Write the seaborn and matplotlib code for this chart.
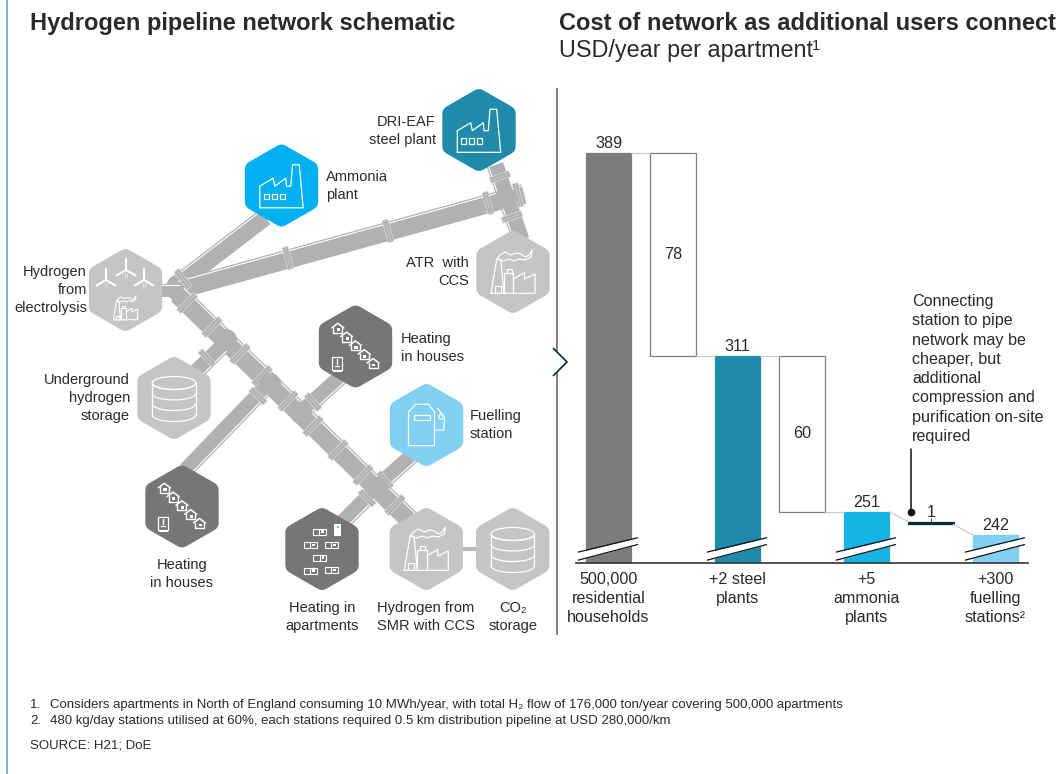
import numpy as np
import pandas as pd
import seaborn as sns
import matplotlib.pyplot as plt
from matplotlib.patches import Polygon, Rectangle, Ellipse, Circle

# waterfall values
steps = ["households", "steel_drop", "steel", "ammonia_drop", "ammonia", "station_drop", "stations"]
heights = [389, 78, 311, 60, 251, 1, 242]
bottoms = [0, 311, 0, 251, 0, 246.2, 0]
bar_colors = ["#7b7c7b", "#ffffff", "#1f8aa9", "#ffffff", "#16b3e5", "#0b2a3f", "#80d0f1"]
edge_colors = ["#7b7c7b", "#7f7f7f", "#1f8aa9", "#7f7f7f", "#16b3e5", "#0b2a3f", "#80d0f1"]
total_labels = ["389", "311", "251", "242"]
drop_labels = ["78", "60"]
tick_labels = ["500,000\nresidential\nhouseholds", "+2 steel\nplants", "+5\nammonia\nplants", "+300\nfuelling\nstations²"]

TEXT = "#2a2a2a"
PIPE = "#b0b1b3"
GREY_HEX = "#c4c5c7"
DARK_HEX = "#757776"
W, H = 1064, 774

sns.set_theme(style="white")
plt.rcParams['font.family'] = ['Liberation Sans', 'DejaVu Sans']

fig = plt.figure(figsize=(W / 100, H / 100), dpi=100)

# overlay in pixel coordinates for the schematic and the notes
ov = fig.add_axes([0, 0, 1, 1])
ov.set_xlim(0, W)
ov.set_ylim(H, 0)
ov.axis("off")


def line(xs, ys, color="white", lw=0.9, z=5, **kws):
    ov.plot(xs, ys, color=color, lw=lw, zorder=z, solid_capstyle=kws.pop("cap", "round"), **kws)


def pipe(p0, p1, width, collars=(), side=1):
    p0, p1 = np.array(p0, float), np.array(p1, float)
    d = (p1 - p0) / np.linalg.norm(p1 - p0)
    n = np.array([-d[1], d[0]]) * side
    line([p0[0], p1[0]], [p0[1], p1[1]], PIPE, width * 0.72, 2, cap="butt")
    off = n * (width / 2 - 1.8)
    line([p0[0] + off[0], p1[0] + off[0]], [p0[1] + off[1], p1[1] + off[1]], "white", 0.8, 2.1, cap="butt")
    # collars sit across the pipe at the given points
    for c in collars:
        c = np.array(c, float)
        half_w = (width + 4) / 2
        corners = [c + d * 3 + n * half_w, c + d * 3 - n * half_w, c - d * 3 - n * half_w, c - d * 3 + n * half_w]
        ov.add_patch(Polygon(corners, closed=True, fc=PIPE, ec="#dcdcdd", lw=0.5, zorder=2.2))
        a, b = c + n * half_w, c - n * half_w
        line([a[0], b[0]], [a[1], b[1]], "#d4d5d6", 0.4, 2.3, cap="butt")


def hexagon(cx, cy, color):
    # rounded corners come from the thick round-joined edge
    rx, ry = 28.7, 33
    pts = [(cx, cy - ry), (cx + rx, cy - ry / 2), (cx + rx, cy + ry / 2), (cx, cy + ry), (cx - rx, cy + ry / 2), (cx - rx, cy - ry / 2)]
    ov.add_patch(Polygon(pts, closed=True, fc=color, ec=color, lw=11.5, joinstyle="round", zorder=3))


def factory(cx, cy):
    xs = np.array([-21.7, -21.7, -8.3, -6.7, 4.3, 5, 9.3, 11, 17.7, 21.7, -21.7])
    ys = np.array([22.3, 0.7, -7.3, 0.7, -7.3, 0.7, 0.7, -20.7, -20.7, 22.3, 22.3])
    line(cx + xs, cy + ys)
    for x0 in [-17.8, -9.8, -1.8]:
        ov.add_patch(Rectangle((cx + x0, cy + 8.3), 4.8, 5.7, fc="none", ec="white", lw=0.9, zorder=5))


def plant(cx, cy, s=1.0, lw=0.9):
    parts = [
        ([-22, -16.3, -12.3, -9, -22], [21.3, -12.7, -12.7, 21.3, 21.3]),
        ([-18, -18, -12.5, -12.5], [21.3, 14, 14, 21.3]),
        ([-9, -9, 0.3, 0.3], [21.3, 0.7, 0.7, 21.3]),
        ([-6.5, -6.5, -1.5, -1.5], [0.7, -3, -3, 0.7]),
        ([0.3, 11.5, 11.5, 22, 22, -9], [7, 0.5, 7, 2, 21.3, 21.3]),
        ([-16, -13, -8, -2, 3, 8, 12, 16, 19, 18, 12, 6, 1, -4, -10, -16],
         [-13, -17, -20, -17, -19, -18, -15, -17, -22, -15, -12, -13, -11, -13, -11, -13]),
    ]
    for xs, ys in parts:
        line(cx + s * np.array(xs), cy + s * np.array(ys), lw=lw)


def turbine(cx, cy):
    for ang in [90, 210, 330]:
        a = np.radians(ang)
        ex, ey = cx + 11 * np.cos(a), cy - 11 * np.sin(a)
        line([cx, ex], [cy, ey], lw=1.5)
    line([cx - 1, cx - 1], [cy + 3, cy + 8], "#e6e6e6", 0.6)
    line([cx + 1, cx + 1], [cy + 3, cy + 8], "#e6e6e6", 0.6)


def database(cx, cy):
    t = np.linspace(0, np.pi, 40)
    rx, ry = 21.7, 6.5
    ov.add_patch(Ellipse((cx, cy - 15), rx * 2, ry * 2, fc="none", ec="white", lw=0.9, zorder=5))
    for dy in [-15, -4.5, 6, 17]:
        line(cx + rx * np.cos(t), cy + dy + ry * np.sin(t))
    line([cx - rx, cx - rx], [cy - 15, cy + 17])
    line([cx + rx, cx + rx], [cy - 15, cy + 17])


def houses(cx, cy):
    for i in range(5):
        x = cx - 17.7 + 8.8 * i
        y = cy - 18.2 + 8.8 * i
        line([x - 4.5, x - 4.5, x + 4.5, x + 4.5], [y - 1, y + 4.5, y + 4.5, y - 1], lw=1.0)
        line([x - 6, x, x + 6], [y - 0.5, y - 5, y - 0.5], lw=1.1)
        ov.add_patch(Rectangle((x - 1, y), 3.2, 2.8, fc="white", ec="none", zorder=5))
    ov.add_patch(Rectangle((cx - 24, cy + 10), 10, 13, fc="none", ec="white", lw=0.9, zorder=5))
    line([cx - 19, cx - 19], [cy + 12.5, cy + 17], lw=1.0)
    line([cx - 21, cx - 17], [cy + 19.5, cy + 19.5], lw=1.0)
    line([cx - 23, cx - 15], [cy + 24.5, cy + 24.5], lw=0.8)


def apartments(cx, cy):
    spots = [(-2.7, -17.3), (-12, -4), (9, -4), (-2.3, 8.7), (-12, 21.7), (9, 21)]
    for dx, dy in spots:
        ov.add_patch(Rectangle((cx + dx - 6.5, cy + dy - 3), 13, 6.2, fc="none", ec="white", lw=0.8, zorder=5))
        line([cx + dx, cx + dx], [cy + dy - 3, cy + dy + 3], lw=0.8)
        ov.add_patch(Rectangle((cx + dx + 2, cy + dy - 1.5), 2.5, 2.5, fc="white", ec="none", zorder=5))
    ov.add_patch(Rectangle((cx + 11.5, cy - 25.5), 7.8, 12, fc="white", ec="none", zorder=5))
    ov.add_patch(Circle((cx + 16, cy - 22), 0.9, fc="#16b3e5", ec="none", zorder=6))


def fuel_pump(cx, cy):
    line(cx + np.array([-18, -18, -11, 2, 8, 8, -18]), cy + np.array([20.7, -13, -20.7, -20.7, -13, 20.7, 20.7]))
    ov.add_patch(Rectangle((cx - 13, cy - 10), 16.7, 5, fc="none", ec="white", lw=0.9, zorder=5))
    line(cx + np.array([8, 17, 18.3, 11]), cy + np.array([5, 5, -6.7, -17]))
    ov.add_patch(Circle((cx + 14.7, cy - 8.3), 2.5, fc="none", ec="white", lw=0.9, zorder=5))


# pipes, drawn below the hexagons
ov.add_patch(Circle((180, 288), 14, fc=PIPE, ec="none", zorder=2))
pipe((160, 290), (180, 290), 13, side=-1)
pipe((180, 282), (265, 217), 18, [(183, 279)], side=-1)
pipe((180, 289), (505, 199), 19, [(288, 258), (388, 231), (488, 203)], side=-1)
pipe((495, 165), (521, 240), 17, [(500, 177), (512, 217)], side=1)
pipe((505, 199), (524, 194), 20, [(518, 195)], side=-1)
pipe((178, 294), (412, 522), 20, [(187, 303), (212, 327), (240, 354), (262, 376), (288, 401), (313, 426), (338, 450), (363, 475), (395, 505)], side=-1)
pipe((228, 341), (193, 375), 16, [(207, 358)], side=-1)
pipe((270, 383), (186, 470), 16, [(258, 396)], side=-1)
pipe((302, 412), (342, 376), 16, [(313, 402)], side=1)
pipe((376, 488), (413, 455), 16, [(385, 480)], side=1)
pipe((378, 487), (343, 522), 16, [(367, 498)], side=-1)
# solid blocks where the branches meet the main run
for jx, jy in [(226, 340), (270, 384), (301, 413), (377, 488), (506, 198)]:
    ov.add_patch(Circle((jx, jy), 11, fc=PIPE, ec="none", zorder=2.4))
line([460, 480], [549, 549], "#b9babc", 3, 2, cap="butt")

hex_specs = [
    (479, 130, "#1f8aa9"), (281.5, 185.5, "#00b0f0"), (125.5, 290, GREY_HEX), (513, 272, GREY_HEX),
    (355.5, 346.5, DARK_HEX), (174, 398, GREY_HEX), (426.5, 425, "#80d0f1"), (182, 506.5, DARK_HEX),
    (322, 549, DARK_HEX), (426.3, 549, GREY_HEX), (512.7, 549, GREY_HEX),
]
for cx, cy, col in hex_specs:
    hexagon(cx, cy, col)

factory(479, 130)
factory(281.5, 185.5)
plant(513, 272)
plant(426.3, 549)
for tx, ty in [(106, 280), (126, 270), (144, 280)]:
    turbine(tx, ty)
plant(125.5, 308, 0.55, 0.8)
houses(355.5, 346.5)
houses(182, 506.5)
database(174, 398)
database(512.7, 549)
fuel_pump(426.5, 425)
apartments(322, 549)

schematic_labels = [
    (436, 131, "DRI-EAF\nsteel plant", "right"),
    (326, 186, "Ammonia\nplant", "left"),
    (87, 290, "Hydrogen\nfrom\nelectrolysis", "right"),
    (469, 272, "ATR  with\nCCS", "right"),
    (401, 348, "Heating\nin houses", "left"),
    (130, 398, "Underground\nhydrogen\nstorage", "right"),
    (470, 425, "Fuelling\nstation", "left"),
    (182, 574, "Heating\nin houses", "center"),
    (322, 617, "Heating in\napartments", "center"),
    (426, 617, "Hydrogen from\nSMR with CCS", "center"),
    (513, 617, "CO₂\nstorage", "center"),
]
for x, y, txt, ha in schematic_labels:
    ov.text(x, y, txt, ha=ha, va="center", fontsize=10.5, color=TEXT, linespacing=1.35, zorder=6)

ov.text(30, 23.5, "Hydrogen pipeline network schematic", fontsize=17, fontweight="bold", color=TEXT, va="center")
ov.text(559, 23.5, "Cost of network as additional users connect", fontsize=17, fontweight="bold", color=TEXT, va="center")
ov.text(559, 51, "USD/year per apartment", fontsize=16.8, color=TEXT, va="center")
ov.text(812, 46, "1", fontsize=10.5, color=TEXT, va="center")

# frame lines
line([6.7, 6.7], [0, H], "#6fb9d3", 1.4, 1, cap="butt")
line([557, 557], [88, 635], "#808080", 1.4, 1, cap="butt")
ov.add_patch(Polygon([(553, 348), (567, 362), (553, 376)], closed=True, fc="white", ec="none", zorder=1.5))
line([553, 567, 553], [348, 362, 376], "#14344a", 1.3, 6, cap="butt")

notes = [
    (705, "1.", "Considers apartments in North of England consuming 10 MWh/year, with total H₂ flow of 176,000 ton/year covering 500,000 apartments"),
    (721, "2.", "480 kg/day stations utilised at 60%, each stations required 0.5 km distribution pipeline at USD 280,000/km"),
]
for y, num, txt in notes:
    ov.text(30, y, num, fontsize=9.55, color=TEXT, va="center")
    ov.text(50, y, txt, fontsize=9.55, color=TEXT, va="center")
ov.text(30, 745, "SOURCE: H21; DoE", fontsize=9.55, color=TEXT, va="center")

# waterfall in its own axes, truncated at the bottom
px_left, px_right, px_top, px_bottom = 575.7, 1028, 88, 562.5
px_per_unit = 2.6
ax = fig.add_axes([px_left / W, 1 - px_bottom / H, (px_right - px_left) / W, (px_bottom - px_top) / H])
ax.patch.set_alpha(0)

df = pd.DataFrame({"step": steps, "height": heights})
sns.barplot(data=df, x="step", y="height", order=steps, width=0.7, ax=ax, color="#7b7c7b")
for bar, b, fc, ec in zip(ax.patches, bottoms, bar_colors, edge_colors):
    bar.set_y(b)
    bar.set_facecolor(fc)
    bar.set_edgecolor(ec)
    bar.set_linewidth(0.9)

ax.set_xlim(-0.5085, 6.504)
ax.set_ylim(389 - (px_bottom - 153) / px_per_unit, 389 + (153 - px_top) / px_per_unit)
sns.despine(ax=ax, left=True)
ax.spines["bottom"].set_color("#333333")
ax.spines["bottom"].set_linewidth(1.2)
ax.set_xlabel("")
ax.set_ylabel("")
ax.set_yticks([])
ax.set_xticks([0, 2, 4, 6])
ax.set_xticklabels(tick_labels, fontsize=11.6, color=TEXT, linespacing=1.35)
ax.tick_params(axis="x", length=0, pad=6.5)

# connectors between the bars
tops = [b + h for b, h in zip(bottoms, heights)]
links = [(0, tops[0], tops[1]), (1, bottoms[1], tops[2]), (2, tops[2], tops[3]), (3, bottoms[3], tops[4]),
         (4, tops[4], tops[5]), (5, bottoms[5], tops[6])]
for i, y0, y1 in links:
    ax.plot([i + 0.35, i + 0.65], [y0, y1], color="#c8c8c8", lw=0.8, zorder=1)

# value labels
for i, txt in zip([0, 2, 4, 6], total_labels):
    ax.annotate(txt, (i, heights[i]), xytext=(0, 1.5), textcoords="offset points", ha="center", va="bottom", fontsize=11.6, color=TEXT)
for i, txt in zip([1, 3], drop_labels):
    ax.text(i, bottoms[i] + heights[i] / 2, txt, ha="center", va="center", fontsize=11.6, color=TEXT)
ax.annotate("1", (5, tops[5]), xytext=(0, 1), textcoords="offset points", ha="center", va="bottom", fontsize=11.6, color=TEXT)
ax.plot([5, 5], [tops[5], tops[5] + 1.6], color=TEXT, lw=0.6)

# axis break marks over the total bars
for i in [0, 2, 4, 6]:
    xs = np.array([i - 0.47, i + 0.45])
    upper = np.array([235.5, 241])
    lower = np.array([232.4, 238.4])
    ax.fill_between(xs, lower, upper, color="white", zorder=4, lw=0)
    ax.plot(xs, upper, color="#111111", lw=0.9, zorder=5)
    ax.plot(xs, lower, color="#111111", lw=0.9, zorder=5)

# callout above the thin bar
ax.plot([4.69, 4.69], [tops[4] - 0.2, tops[4] + 24], color="#111111", lw=1.1, zorder=5)
ax.plot([4.69], [tops[4] - 0.2], marker="o", ms=4.5, color="#111111", zorder=5)
ov.text(912, 369, "Connecting\nstation to pipe\nnetwork may be\ncheaper, but\nadditional\ncompression and\npurification on-site\nrequired",
        fontsize=11.6, color=TEXT, va="center", ha="left", linespacing=1.36)

fig.savefig("out.png", dpi=100)
